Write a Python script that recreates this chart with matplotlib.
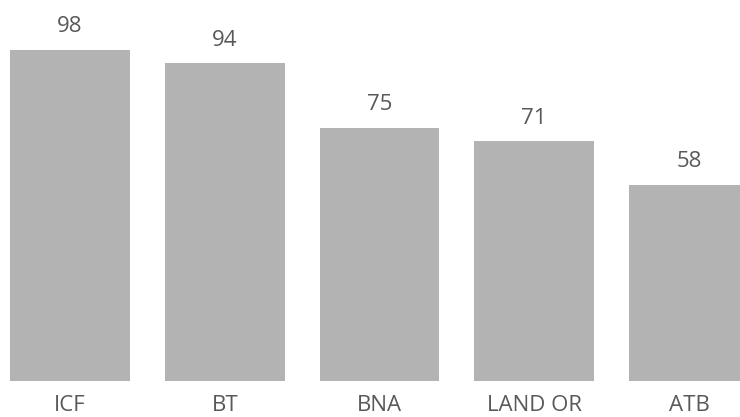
import matplotlib.pyplot as plt

categories = ['ICF', 'BT', 'BNA', 'LAND OR', 'ATB']
values = [98, 94, 75, 71, 58]

bar_color = '#b3b3b3'
text_color = '#595959'

plt.rcParams['font.family'] = ['Open Sans', 'DejaVu Sans']

fig = plt.figure(figsize=(7.4, 4.17), dpi=100)
# axes fills the width, zero line at 381 px from the top
ax = fig.add_axes([0, 36 / 417, 1, 381 / 417])

x = list(range(len(categories)))
ax.bar(x, values, width=0.775, color=bar_color)

for xi, v in zip(x, values):
    ax.annotate(str(v), (xi, v), xytext=(0, 9), textcoords='offset points',
                ha='center', va='bottom', fontsize=16, color=text_color)

ax.set_xlim(-70 / 154.75, 670 / 154.75)
ax.set_ylim(0, 381 / 3.38)
ax.set_xticks(x)
ax.set_xticklabels(categories, fontsize=16, color=text_color)
ax.tick_params(axis='x', length=0, pad=10)
ax.set_yticks([])
for s in ax.spines.values():
    s.set_visible(False)

fig.savefig('out.png', dpi=100)
